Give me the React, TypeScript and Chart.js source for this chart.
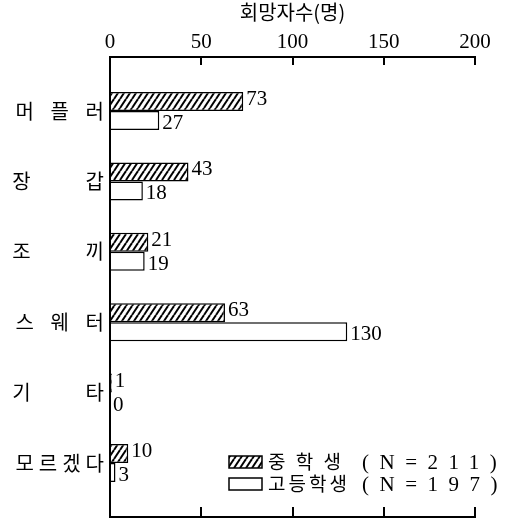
import React, { useEffect, useRef } from 'react';
import { Chart, registerables } from 'chart.js';

Chart.register(...registerables);

// ---- data ----
const categories = ['머\u2004플\u2004러', '장\u3000\u3000갑', '조\u3000\u3000끼', '스\u2004웨\u2004터', '기\u3000\u3000타', '모르겠다'];
const middleSchool = [73, 43, 21, 63, 1, 10];
const highSchool = [27, 18, 19, 130, 0, 3];
const seriesNames = ['중 학 생', '고등학생'];
const seriesN = [211, 197];
const xTicks = [0, 50, 100, 150, 200];
const axisTitle = '회망자수(명)';

const SERIF = "'Liberation Serif', 'Times New Roman', serif";
const KR = "'Noto Sans CJK KR', 'Noto Sans', sans-serif";

function makeHatch(ctx: CanvasRenderingContext2D): CanvasPattern | string {
  const c = document.createElement('canvas');
  c.width = 6;
  c.height = 9;
  const g = c.getContext('2d');
  if (!g) return '#888';
  g.fillStyle = '#fff';
  g.fillRect(0, 0, 6, 9);
  g.strokeStyle = '#000';
  g.lineWidth = 2;
  for (const dx of [-6, 0, 6]) {
    g.beginPath();
    g.moveTo(dx, 9);
    g.lineTo(dx + 6, 0);
    g.stroke();
  }
  return ctx.createPattern(c, 'repeat') || '#888';
}

export default function App() {
  const ref = useRef<HTMLCanvasElement | null>(null);

  useEffect(() => {
    const canvas = ref.current;
    if (!canvas) return;
    const ctx0 = canvas.getContext('2d') as CanvasRenderingContext2D;
    const hatch = makeHatch(ctx0);
    const fills: any[] = [hatch, '#ffffff'];

    const valueLabels = {
      id: 'valueLabels',
      afterDatasetsDraw(chart: any) {
        const ctx = chart.ctx as CanvasRenderingContext2D;
        ctx.save();
        ctx.font = `21px ${SERIF}`;
        ctx.fillStyle = '#000';
        ctx.textBaseline = 'middle';
        ctx.textAlign = 'left';
        chart.data.datasets.forEach((ds: any, di: number) => {
          const meta = chart.getDatasetMeta(di);
          meta.data.forEach((el: any, i: number) => {
            const v = ds.data[i].x;
            ctx.fillText(String(v), el.x + 3, el.y + (di === 0 ? -2 : 3));
          });
        });
        ctx.restore();
      },
    };

    const boxLegend = {
      id: 'boxLegend',
      afterDraw(chart: any) {
        const ctx = chart.ctx as any;
        const ca = chart.chartArea;
        seriesNames.forEach((name, i) => {
          const bx = ca.right - 246;
          const by = ca.bottom - 61 + i * 22;
          ctx.save();
          ctx.fillStyle = fills[i];
          ctx.fillRect(bx, by, 33, 12);
          ctx.strokeStyle = '#000';
          ctx.lineWidth = 1.5;
          ctx.strokeRect(bx, by, 33, 12);
          ctx.fillStyle = '#000';
          ctx.textBaseline = 'middle';
          ctx.textAlign = 'left';
          ctx.font = `19px ${KR}`;
          ctx.letterSpacing = '3px';
          ctx.fillText(name, bx + 39, by + 6);
          ctx.font = `21px ${SERIF}`;
          ctx.letterSpacing = '10.5px';
          ctx.fillText(`(N=${seriesN[i]})`, bx + 133, by + 7);
          ctx.restore();
        });
      },
    };

    const chart = new Chart(canvas, {
      type: 'bar',
      data: {
        datasets: [
          {
            label: seriesNames[0],
            data: middleSchool.map((v, i) => ({ x: v, y: i })) as any,
            backgroundColor: hatch as any,
            borderColor: '#000',
            borderWidth: 1.5,
            xAxisID: 'x',
            yAxisID: 'y',
          },
          {
            label: seriesNames[1],
            data: highSchool.map((v, i) => ({ x: v, y: i })) as any,
            backgroundColor: '#ffffff',
            borderColor: '#000',
            borderWidth: 1.5,
            xAxisID: 'x',
            yAxisID: 'y',
          },
        ],
      },
      options: {
        indexAxis: 'y',
        animation: false,
        responsive: true,
        maintainAspectRatio: false,
        layout: { padding: { top: 0, left: 0, right: 30, bottom: 0 } },
        datasets: { bar: { categoryPercentage: 0.54, barPercentage: 1.0 } } as any,
        plugins: {
          legend: { display: false },
          tooltip: { enabled: false },
        },
        scales: {
          x: {
            type: 'linear',
            position: 'top',
            min: 0,
            max: 200,
            afterBuildTicks: (s: any) => {
              s.ticks = xTicks.map((v) => ({ value: v }));
            },
            afterFit: (s: any) => {
              s.height = 57;
            },
            grid: { drawOnChartArea: false, drawTicks: true, tickLength: -8, color: '#000', lineWidth: 2 },
            border: { display: true, color: '#000', width: 2 },
            ticks: { font: { family: SERIF, size: 21 }, color: '#000', padding: 10, maxRotation: 0, autoSkip: false },
            title: {
              display: true,
              text: axisTitle,
              font: { family: KR, size: 20 },
              color: '#000',
              padding: { top: 0, bottom: 0 },
            },
          },
          x2: {
            type: 'linear',
            axis: 'x',
            position: 'bottom',
            min: 0,
            max: 200,
            afterBuildTicks: (s: any) => {
              s.ticks = xTicks.map((v) => ({ value: v }));
            },
            afterFit: (s: any) => {
              s.height = 4;
            },
            grid: { drawOnChartArea: false, drawTicks: true, tickLength: -10, color: '#000', lineWidth: 2 },
            border: { display: true, color: '#000', width: 2 },
            ticks: { display: false },
          } as any,
          y: {
            type: 'linear',
            reverse: true,
            offset: false,
            min: -0.767,
            max: 5.767,
            afterBuildTicks: (s: any) => {
              s.ticks = categories.map((_, i) => ({ value: i }));
            },
            afterFit: (s: any) => {
              s.width = 110;
              s.paddingTop = 0;
              s.paddingBottom = 0;
              if (!s.__spaced) {
                const orig = s.drawLabels.bind(s);
                s.drawLabels = (area: any) => {
                  const c = s.ctx as any;
                  const prev = c.letterSpacing;
                  c.letterSpacing = '5px';
                  orig(area);
                  c.letterSpacing = prev || '0px';
                };
                s.__spaced = true;
              }
            },
            grid: { display: false, drawTicks: false, offset: false },
            border: { display: true, color: '#000', width: 2 },
            ticks: {
              font: { family: KR, size: 20 },
              color: '#000',
              padding: 1,
              autoSkip: false,
              callback: (v: any) => categories[Number(v)] ?? '',
            },
          } as any,
        },
      },
      plugins: [valueLabels, boxLegend],
    });

    return () => chart.destroy();
  }, []);

  return (
    <div style={{ position: 'absolute', left: 0, top: 0, width: 505, height: 521, background: '#fff' }}>
      <canvas ref={ref} />
    </div>
  );
}
